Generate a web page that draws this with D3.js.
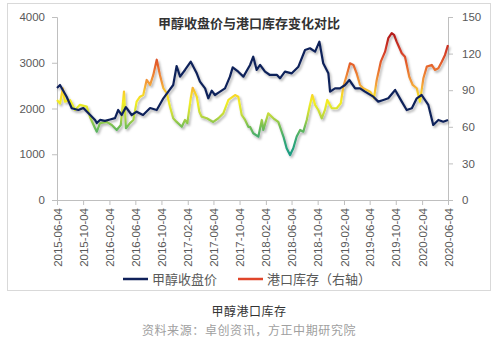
<!DOCTYPE html>
<html><head><meta charset="utf-8">
<script src="https://cdn.jsdelivr.net/npm/d3@7"></script>
<style>
html,body{margin:0;padding:0;background:#fff;}
svg{display:block;}
</style></head>
<body><svg id="c" width="500" height="340"></svg>
<script>
// ---- data ----
const title = "甲醇收盘价与港口库存变化对比";
const seriesNames = ["甲醇收盘价", "港口库存（右轴）"];
const xTickLabels = ["2015-06-04","2015-10-04","2016-02-04","2016-06-04","2016-10-04","2017-02-04","2017-06-04","2017-10-04","2018-02-04","2018-06-04","2018-10-04","2019-02-04","2019-06-04","2019-10-04","2020-02-04","2020-06-04"];
const leftTicks = [0,1000,2000,3000,4000];
const rightTicks = [0,30,60,90,120,150];

const priceDates = ["2015-06-04","2015-06-18","2015-07-19","2015-08-12","2015-09-12","2015-10-05","2015-10-28","2015-11-29","2015-12-07","2015-12-22","2016-01-14","2016-02-07","2016-03-01","2016-03-16","2016-04-01","2016-04-21","2016-05-18","2016-06-10","2016-07-10","2016-08-12","2016-09-12","2016-10-13","2016-11-05","2016-11-28","2016-12-14","2016-12-30","2017-01-22","2017-02-18","2017-03-18","2017-04-02","2017-04-26","2017-05-11","2017-05-27","2017-06-11","2017-07-05","2017-07-28","2017-08-20","2017-09-02","2017-09-28","2017-10-22","2017-11-22","2017-12-07","2017-12-23","2018-01-08","2018-01-31","2018-02-23","2018-03-28","2018-04-11","2018-05-04","2018-06-05","2018-07-06","2018-08-06","2018-08-29","2018-09-22","2018-10-12","2018-10-30","2018-11-23","2018-12-01","2018-12-24","2019-01-16","2019-02-09","2019-03-01","2019-03-28","2019-04-20","2019-05-13","2019-06-21","2019-07-14","2019-08-07","2019-08-30","2019-10-01","2019-11-01","2019-11-24","2019-12-18","2020-01-10","2020-02-02","2020-03-04","2020-03-27","2020-04-20","2020-05-13","2020-06-04"];
const priceValues = [2450,2514,2258,2005,1967,2010,1900,1750,1683,1750,1730,1760,1790,1967,1858,2030,1858,1930,1858,2010,1967,2223,2368,2514,2929,2696,2842,3023,2769,2587,2441,2223,2390,2295,2368,2441,2696,2900,2805,2696,2951,3133,2842,2951,2805,2733,2733,2660,2805,2769,2914,3279,3316,3242,3461,2988,2769,2368,2441,2441,2514,2623,2441,2441,2368,2259,2150,2186,2223,2405,2150,1967,2005,2223,2295,2077,1640,1749,1712,1749];

const stockDates = ["2015-06-04","2015-06-18","2015-07-01","2015-07-11","2015-08-04","2015-08-27","2015-09-19","2015-10-21","2015-11-05","2015-11-29","2015-12-07","2015-12-22","2016-01-22","2016-02-15","2016-03-09","2016-03-28","2016-04-12","2016-04-21","2016-05-10","2016-05-26","2016-06-10","2016-06-26","2016-07-11","2016-07-27","2016-08-12","2016-08-27","2016-09-12","2016-09-27","2016-10-13","2016-10-29","2016-11-13","2016-11-28","2016-12-14","2017-01-07","2017-01-22","2017-02-02","2017-02-18","2017-02-27","2017-03-18","2017-03-30","2017-04-10","2017-05-04","2017-06-03","2017-06-27","2017-07-20","2017-08-13","2017-09-13","2017-09-28","2017-10-14","2017-10-30","2017-11-14","2017-11-22","2017-12-07","2017-12-31","2018-01-16","2018-01-23","2018-02-15","2018-03-11","2018-04-03","2018-04-27","2018-05-12","2018-05-28","2018-06-12","2018-06-28","2018-07-14","2018-07-29","2018-08-14","2018-08-29","2018-09-09","2018-09-22","2018-10-07","2018-10-23","2018-11-07","2018-11-18","2018-12-09","2019-01-01","2019-01-20","2019-02-01","2019-02-17","2019-03-04","2019-03-20","2019-04-04","2019-04-20","2019-05-05","2019-05-21","2019-06-06","2019-06-24","2019-07-07","2019-07-26","2019-08-15","2019-08-30","2019-09-15","2019-09-26","2019-10-08","2019-11-01","2019-11-16","2019-12-06","2019-12-22","2020-01-10","2020-01-25","2020-02-10","2020-02-26","2020-03-20","2020-04-04","2020-04-20","2020-05-06","2020-05-21","2020-06-04"];
const stockValues = [82,79,91.6,80.6,82,73.8,78,76.5,68,58.8,56,63,64,61.5,57.4,61.5,88.8,58.8,63,65.6,80.6,84.7,86,98.4,94.3,102.5,115,102.5,91.6,87.5,76.5,67,64,60,65.6,63,83.4,92,84.7,72.4,68.3,67,64,67,71,82,86,84.7,69.7,65.6,60,60,54.7,52,65.6,57.4,71,67,64,52,42.4,36.9,42.4,52,57.4,56,65.6,78,86,78,73.8,67,73.8,82,75.2,75.2,79.3,92.9,102.5,112,110.7,103.9,94.3,91.6,90.2,88.8,83.4,98.4,113.4,121.6,132.6,136.7,135.3,129.8,120.3,117.5,101,94.3,91.6,80.6,99.8,109.3,110.7,106.6,108,113.4,118.9,127];

// gradient stops by inventory value
const gradValues = [35,50,60,70,80,88,95,110,122,135];
const gradColors = ["#159a86","#38a874","#72bd55","#c4db3c","#f3ee22","#f7cf2c","#f3a03a","#e6652c","#d33c28","#b41c1a"];

// ---- drawing ----
const svg = d3.select("#c");
const parse = d3.timeParse("%Y-%m-%d");
const M = {l:57, r:448, t:17, b:200};

const x = d3.scaleTime().domain([parse("2015-06-04"), parse("2020-06-04")]).range([M.l, M.r]);
const yL = d3.scaleLinear().domain([0,4000]).range([M.b, M.t]);
const yR = d3.scaleLinear().domain([0,150]).range([M.b, M.t]);

const defs = svg.append("defs");
const f = defs.append("filter").attr("id","sh").attr("x","-5%").attr("y","-5%").attr("width","110%").attr("height","120%");
f.append("feDropShadow").attr("dx",1.5).attr("dy",2).attr("stdDeviation",1.2).attr("flood-color","#000").attr("flood-opacity",0.3);

const lg = defs.append("linearGradient").attr("id","inv").attr("gradientUnits","userSpaceOnUse")
  .attr("x1",0).attr("x2",0).attr("y1",yR(0)).attr("y2",yR(150));
const gs = d3.scaleLinear().domain([0,150]).range([0,1]);
gradValues.forEach((v,i)=>lg.append("stop").attr("offset",gs(v)).attr("stop-color",gradColors[i]));

// frame
svg.append("rect").attr("x",7.5).attr("y",3.5).attr("width",483).attr("height",287)
  .attr("fill","#fff").attr("stroke","#d9d9d9").attr("stroke-width",1);

const numFont = "'Liberation Sans', Arial, sans-serif";
const cjk = "'Noto Sans CJK SC', sans-serif";

// axes
const axL = svg.append("g").attr("transform",`translate(${M.l},0)`)
  .call(d3.axisLeft(yL).tickValues(leftTicks).tickSize(5).tickPadding(7).tickFormat(d3.format("d")));
const axR = svg.append("g").attr("transform",`translate(${M.r},0)`)
  .call(d3.axisRight(yR).tickValues(rightTicks).tickSize(5).tickPadding(9).tickFormat(d3.format("d")));
const xTickDates = xTickLabels.map(parse);
const axB = svg.append("g").attr("transform",`translate(0,${M.b})`)
  .call(d3.axisBottom(x).tickValues(xTickDates).tickSize(5).tickFormat(d3.timeFormat("%Y-%m-%d")));
[axL,axR,axB].forEach(a=>{
  a.selectAll("path,line").attr("stroke","#bfbfbf");
  a.selectAll("text").attr("fill","#595959").style("font-family",numFont).style("font-size","11.5px");
});
axB.selectAll("text").attr("transform","rotate(-90)").attr("text-anchor","end")
  .attr("x",-8).attr("y",0).attr("dy","0.35em").style("font-size","11.5px");

// lines
const plotG = svg.append("g").attr("filter","url(#sh)");
const priceData = priceDates.map((d,i)=>({d:parse(d), v:priceValues[i]}));
const stockData = stockDates.map((d,i)=>({d:parse(d), v:stockValues[i]}));
plotG.append("path").datum(stockData)
  .attr("d", d3.line().x(p=>x(p.d)).y(p=>yR(p.v)))
  .attr("fill","none").attr("stroke","url(#inv)").attr("stroke-width",2.2).attr("stroke-linejoin","round");
plotG.append("path").datum(priceData)
  .attr("d", d3.line().x(p=>x(p.d)).y(p=>yL(p.v)))
  .attr("fill","none").attr("stroke","#10215a").attr("stroke-width",2.2).attr("stroke-linejoin","round");

// title
svg.append("text").attr("x",249).attr("y",28).attr("text-anchor","middle")
  .style("font-family",cjk).style("font-size","13px").style("font-weight","bold").attr("fill","#333")
  .text(title);

// legend
const legColors = ["#10215a","#e0452a"];
const legX = [123,238];
seriesNames.forEach((n,i)=>{
  svg.append("line").attr("x1",legX[i]).attr("x2",legX[i]+25).attr("y1",279).attr("y2",279)
    .attr("stroke",legColors[i]).attr("stroke-width",2.5);
  svg.append("text").attr("x",legX[i]+29).attr("y",283.5)
    .style("font-family",cjk).style("font-size","13px").attr("fill","#595959").text(n);
});

// captions
svg.append("text").attr("x",249).attr("y",316).attr("text-anchor","middle")
  .style("font-family",cjk).style("font-size","12px").attr("fill","#333").style("letter-spacing","0.5px").text("甲醇港口库存");
svg.append("text").attr("x",249).attr("y",335).attr("text-anchor","middle")
  .style("font-family",cjk).style("font-size","12px").attr("fill","#a0a0a0").style("letter-spacing","0.6px").text("资料来源：卓创资讯，方正中期研究院");
</script></body></html>
